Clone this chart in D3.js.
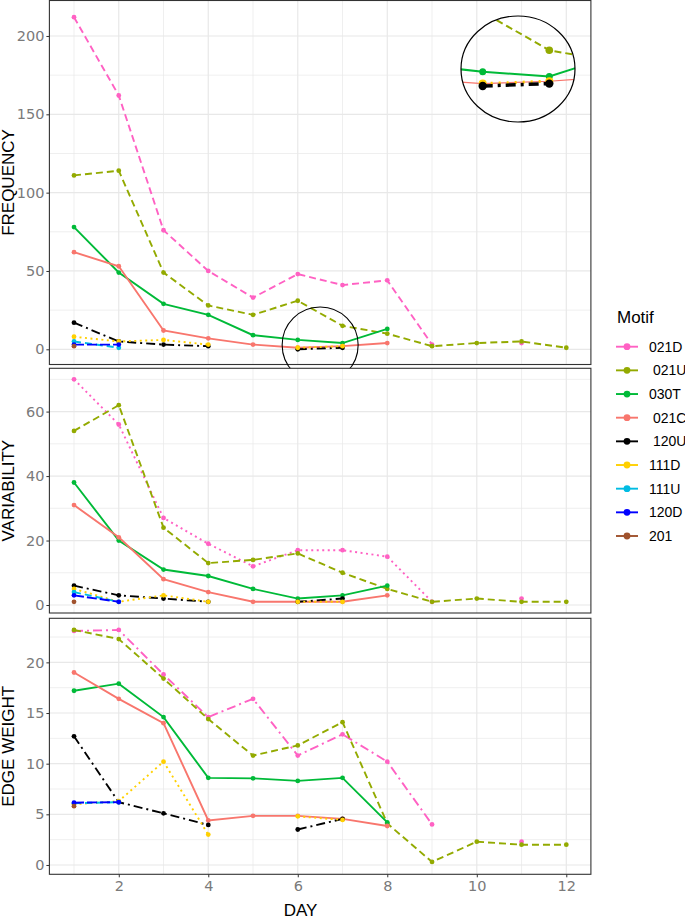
<!DOCTYPE html>
<html><head><meta charset="utf-8">
<script src="https://cdn.jsdelivr.net/npm/d3@7"></script>
<style>
html,body{margin:0;padding:0;background:#fff;}
svg{display:block;}
</style></head>
<body><svg id="chart" width="685" height="921"></svg>
<script>
// ---------------- DATA ----------------
const days = [1,2,3,4,5,6,7,8,9,10,11,12];
const motifs = ["021D","021U","030T","021C","120U","111D","111U","120D","201"];
const legendLabels = ["021D"," 021U","030T"," 021C"," 120U","111D","111U","120D","201"];
const motifColors = ["#FF61C3","#93AA00","#00BA38","#F8766D","#000000","#FFD000","#00BCE3","#0000FF","#A0522D"];

// FREQUENCY (days 1..12, null = missing)
const freq021D = [212,162,76,50,33,48,41,44,3,null,4,null];
const freq021U = [111,114,49,28,22,31,15,10,2,4,5,1];
const freq030T = [78,49,29,22,9,6,4,13,null,null,null,null];
const freq021C = [62,53,12,7,3,1,2,4,null,null,null,null];
const freq120U = [17,5,3,2,null,0,1,null,null,null,null,null];
const freq111D = [8,5,6,3,null,1,2,null,null,null,null,null];
const freq111U = [5,1,null,null,null,null,null,null,null,null,null,null];
const freq120D = [3,3,null,null,null,null,null,null,null,null,null,null];
const freq201  = [2,null,null,null,null,null,null,null,null,null,null,null];

// VARIABILITY
const var021D = [70,56,27,19,12,17,17,15,1,null,2,null];
const var021U = [54,62,24,13,14,16,10,5,1,2,1,1];
const var030T = [38,20,11,9,5,2,3,6,null,null,null,null];
const var021C = [31,21,8,4,1,1,1,3,null,null,null,null];
const var120U = [6,3,2,1,null,1,2,null,null,null,null,null];
const var111D = [5,1,3,1,null,1,1,null,null,null,null,null];
const var111U = [4,1,null,null,null,null,null,null,null,null,null,null];
const var120D = [3,1,null,null,null,null,null,null,null,null,null,null];
const var201  = [1,null,null,null,null,null,null,null,null,null,null,null];

// EDGE WEIGHT
const ew021D = [23.1,23.2,18.8,14.6,16.4,10.8,12.9,10.2,4.0,null,2.3,null];
const ew021U = [23.2,22.3,18.4,14.4,10.8,11.8,14.1,4.1,0.3,2.3,2.0,2.0];
const ew030T = [17.2,17.9,14.6,8.6,8.55,8.3,8.6,4.2,null,null,null,null];
const ew021C = [19.0,16.4,14.0,4.4,4.85,4.85,4.55,3.85,null,null,null,null];
const ew120U = [12.7,6.2,5.1,3.95,null,3.5,4.55,null,null,null,null,null];
const ew111D = [6.0,6.3,10.2,3.0,null,4.8,4.45,null,null,null,null,null];
const ew111U = [6.1,6.2,null,null,null,null,null,null,null,null,null,null];
const ew120D = [6.15,6.2,null,null,null,null,null,null,null,null,null,null];
const ew201  = [5.8,null,null,null,null,null,null,null,null,null,null,null];

const xTicks = [2,4,6,8,10,12];
const xMinor = [1,3,5,7,9,11];
const freqTicks = [0,50,100,150,200];
const freqMinor = [25,75,125,175];
const varTicks = [0,20,40,60];
const varMinor = [10,30,50,70];
const ewTicks = [0,5,10,15,20];
const ewMinor = [2.5,7.5,12.5,17.5,22.5];

// ---------------- STYLES ----------------
const DASH = {solid:null, dashed:"7,4", dotted:"2,3.5", dotdash:"9,4,2,4", longdash:"10,3"};
const freqTypes = ["dashed","dashed","solid","solid","dotdash","dotted","dashed","longdash","solid"];
const varTypes  = ["dotted","dashed","solid","solid","dotdash","dotted","dashed","longdash","solid"];
const ewTypes   = ["dotdash","dashed","solid","solid","dotdash","dotted","dashed","longdash","solid"];

const svg = d3.select("#chart");
const x = d3.scaleLinear().domain([0.45,12.55]).range([49.4,590.9]);

const panels = [
  {title:"FREQUENCY", series:[freq021D,freq021U,freq030T,freq021C,freq120U,freq111D,freq111U,freq120D,freq201],
   types:freqTypes, ticks:freqTicks, minor:freqMinor, top:0.5, bottom:364.5, domain:[-9.7,222.65]},
  {title:"VARIABILITY", series:[var021D,var021U,var030T,var021C,var120U,var111D,var111U,var120D,var201],
   types:varTypes, ticks:varTicks, minor:varMinor, top:368.3, bottom:613.0, domain:[-2.48,73.43]},
  {title:"EDGE WEIGHT", series:[ew021D,ew021U,ew030T,ew021C,ew120U,ew111D,ew111U,ew120D,ew201],
   types:ewTypes, ticks:ewTicks, minor:ewMinor, top:618.3, bottom:874.3, domain:[-0.92,24.35]}
];

function drawPanel(p, idx){
  const y = d3.scaleLinear().domain(p.domain).range([p.bottom,p.top]);
  const g = svg.append("g");
  const x0 = x.range()[0], x1 = x.range()[1];
  g.append("rect").attr("x",x0).attr("y",p.top).attr("width",x1-x0).attr("height",p.bottom-p.top).attr("fill","#fff");
  // grid
  g.selectAll(".ymin").data(p.minor).join("line").attr("x1",x0).attr("x2",x1)
    .attr("y1",d=>y(d)).attr("y2",d=>y(d)).attr("stroke","#E8E8E8").attr("stroke-width",0.7);
  g.selectAll(".xmin").data(xMinor).join("line").attr("y1",p.top).attr("y2",p.bottom)
    .attr("x1",d=>x(d)).attr("x2",d=>x(d)).attr("stroke","#E8E8E8").attr("stroke-width",0.7);
  g.selectAll(".ymaj").data(p.ticks).join("line").attr("x1",x0).attr("x2",x1)
    .attr("y1",d=>y(d)).attr("y2",d=>y(d)).attr("stroke","#E8E8E8").attr("stroke-width",1.2);
  g.selectAll(".xmaj").data(xTicks).join("line").attr("y1",p.top).attr("y2",p.bottom)
    .attr("x1",d=>x(d)).attr("x2",d=>x(d)).attr("stroke","#E8E8E8").attr("stroke-width",1.2);
  // series
  const line = d3.line().defined(d=>d.v!==null).x(d=>x(d.day)).y(d=>y(d.v));
  p.series.forEach((vals,i)=>{
    const pts = days.map((d,k)=>({day:d, v:vals[k]}));
    g.append("path").datum(pts).attr("d",line).attr("fill","none")
      .attr("stroke",motifColors[i]).attr("stroke-width",1.9)
      .attr("stroke-dasharray",DASH[p.types[i]]);
    g.selectAll(null).data(pts.filter(d=>d.v!==null)).join("circle")
      .attr("cx",d=>x(d.day)).attr("cy",d=>y(d.v)).attr("r",2.4).attr("fill",motifColors[i]);
  });
  // border
  g.append("rect").attr("x",x0).attr("y",p.top).attr("width",x1-x0).attr("height",p.bottom-p.top)
    .attr("fill","none").attr("stroke","#333").attr("stroke-width",1.1);
  // y axis
  const ax = g.append("g").attr("transform",`translate(${x0},0)`)
    .call(d3.axisLeft(y).tickValues(p.ticks).tickSize(3).tickPadding(2).tickFormat(d3.format("d")));
  ax.select(".domain").remove();
  ax.selectAll(".tick line").attr("stroke","#333");
  ax.selectAll(".tick text").attr("fill","#7a7a7a").attr("font-size","14.5px").attr("font-family","DejaVu Sans");
  // title
  g.append("text").attr("transform",`translate(14,${(p.top+p.bottom)/2}) rotate(-90)`)
    .attr("text-anchor","middle").attr("font-family","Liberation Sans, Arial").attr("font-size","17px")
    .attr("fill","#000").text(p.title);
  if(idx===2){
    const bx = g.append("g").attr("transform",`translate(0,${p.bottom})`)
      .call(d3.axisBottom(x).tickValues(xTicks).tickSize(3).tickPadding(3).tickFormat(d3.format("d")));
    bx.select(".domain").remove();
    bx.selectAll(".tick line").attr("stroke","#333");
    bx.selectAll(".tick text").attr("fill","#7a7a7a").attr("font-size","14.5px").attr("font-family","DejaVu Sans");
  }
  return y;
}

drawPanel(panels[0],0);

// ------- inset (magnified view of days 6-7 near zero, top panel) -------
const defs = svg.append("defs");
defs.append("clipPath").attr("id","insetClip").append("ellipse")
  .attr("cx",518).attr("cy",69).attr("rx",57).attr("ry",53);
const xi = d3.scaleLinear().domain([6,7]).range([482.7,549.3]);
const yi = d3.scaleLinear().domain([0,15]).range([86,50.25]);
const ig = svg.append("g").attr("clip-path","url(#insetClip)");
const insetOrder = [3,2,1,5,4]; // 021C, 030T, 021U, 111D, 120U
const insetStyle = {
  3:{w:1.2,dash:null,r:0},
  2:{w:2,dash:null,r:3.5},
  1:{w:2,dash:"7,4",r:3.8},
  5:{w:3,dash:"2,6",r:4},
  4:{w:3.5,dash:"10,5,3,5",r:4.2}
};
const iline = d3.line().defined(d=>d.v!==null).x(d=>xi(d.day)).y(d=>yi(d.v));
insetOrder.forEach(i=>{
  const vals = panels[0].series[i];
  const pts = days.map((d,k)=>({day:d, v:vals[k]}));
  const st = insetStyle[i];
  ig.append("path").datum(pts).attr("d",iline).attr("fill","none")
    .attr("stroke",motifColors[i]).attr("stroke-width",st.w).attr("stroke-dasharray",st.dash);
  if(st.r>0){
    ig.selectAll(null).data(pts.filter(d=>d.v!==null && (d.day===6||d.day===7))).join("circle")
      .attr("cx",d=>xi(d.day)).attr("cy",d=>yi(d.v)).attr("r",st.r).attr("fill",motifColors[i]);
  }
});
svg.append("ellipse").attr("cx",518).attr("cy",69).attr("rx",57).attr("ry",53)
  .attr("fill","none").attr("stroke","#000").attr("stroke-width",1.2);

// small highlight circle around days 6-7 near zero
svg.append("circle").attr("cx",(x(6)+x(7))/2).attr("cy",345).attr("r",38)
  .attr("fill","none").attr("stroke","#000").attr("stroke-width",1.1);

drawPanel(panels[1],1);
drawPanel(panels[2],2);

// x title
svg.append("text").attr("x",300.5).attr("y",916).attr("text-anchor","middle")
  .attr("font-family","Liberation Sans, Arial").attr("font-size","17px").text("DAY");

// legend
const lg = svg.append("g");
lg.append("text").attr("x",617).attr("y",323).attr("font-family","Liberation Sans, Arial")
  .attr("font-size","17px").text("Motif");
const ly = d3.scaleLinear().domain([0,8]).range([346.7,536]);
motifs.forEach((m,i)=>{
  const yy = ly(i);
  lg.append("line").attr("x1",616).attr("x2",638).attr("y1",yy).attr("y2",yy)
    .attr("stroke",motifColors[i]).attr("stroke-width",1.9);
  lg.append("circle").attr("cx",627).attr("cy",yy).attr("r",3.4).attr("fill",motifColors[i]);
  lg.append("text").attr("x",649).attr("y",yy+5).attr("font-family","Liberation Sans, Arial")
    .attr("font-size","14px").style("white-space","pre").attr("xml:space","preserve").text(legendLabels[i]);
});
</script></body></html>
